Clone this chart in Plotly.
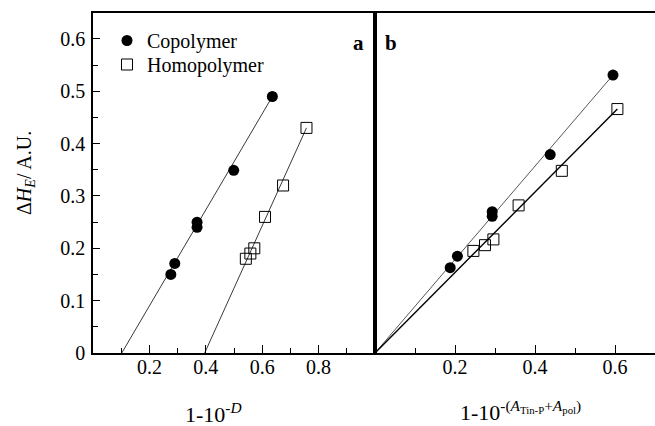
import plotly.graph_objects as go

# Panel a data
co_a_x = [0.276, 0.290, 0.369, 0.369, 0.499, 0.636]
co_a_y = [0.150, 0.171, 0.250, 0.240, 0.349, 0.490]
homo_a_x = [0.542, 0.558, 0.572, 0.610, 0.674, 0.757]
homo_a_y = [0.180, 0.190, 0.200, 0.260, 0.320, 0.430]
co_a_fit_x = [0.102, 0.636]
co_a_fit_y = [0.0, 0.490]
homo_a_fit_x = [0.396, 0.757]
homo_a_fit_y = [0.0, 0.430]

# Panel b data
co_b_x = [0.188, 0.206, 0.293, 0.293, 0.438, 0.595]
co_b_y = [0.163, 0.185, 0.270, 0.261, 0.379, 0.531]
homo_b_x = [0.246, 0.275, 0.296, 0.359, 0.467, 0.606]
homo_b_y = [0.195, 0.206, 0.217, 0.282, 0.348, 0.466]
co_b_fit_x = [0.0, 0.595]
co_b_fit_y = [0.0, 0.531]
homo_b_fit_x = [0.0, 0.606]
homo_b_fit_y = [0.0, 0.466]

y_ticks = [0, 0.1, 0.2, 0.3, 0.4, 0.5, 0.6]
y_ticktext = ["0", "0.1", "0.2", "0.3", "0.4", "0.5", "0.6"]
xa_ticks = [0.2, 0.4, 0.6, 0.8]
xa_ticktext = ["0.2", "0.4", "0.6", "0.8"]
xb_ticks = [0.2, 0.4, 0.6]
xb_ticktext = ["0.2", "0.4", "0.6"]

FONT = "Liberation Serif, Times New Roman, Times, serif"
W, H = 655, 426
L, R, T, B = 93, 0, 13, 73
PW, PH = W - L - R, H - T - B
split = (375 - L) / PW


def px_x(x):
    return (x - L) / PW


def px_y(y):
    # y in pixels from the top of the page
    return (H - B - y) / PH


fig = go.Figure()

fine = dict(color="#222", width=0.9)
fig.add_trace(go.Scatter(x=co_a_fit_x, y=co_a_fit_y, mode="lines", line=fine,
                         showlegend=False, xaxis="x", yaxis="y"))
fig.add_trace(go.Scatter(x=homo_a_fit_x, y=homo_a_fit_y, mode="lines", line=fine,
                         showlegend=False, xaxis="x", yaxis="y"))
fig.add_trace(go.Scatter(x=co_b_fit_x, y=co_b_fit_y, mode="lines",
                         line=dict(color="#444", width=0.9),
                         showlegend=False, xaxis="x2", yaxis="y2"))
fig.add_trace(go.Scatter(x=homo_b_fit_x, y=homo_b_fit_y, mode="lines",
                         line=dict(color="black", width=1.4),
                         showlegend=False, xaxis="x2", yaxis="y2"))

circ = dict(symbol="circle", size=11, color="black", line=dict(width=0))
sq = dict(symbol="square-open", size=11, color="black", line=dict(width=1))

fig.add_trace(go.Scatter(x=co_a_x, y=co_a_y, mode="markers", marker=circ,
                         name="Copolymer", xaxis="x", yaxis="y", legend="legend"))
fig.add_trace(go.Scatter(x=homo_a_x, y=homo_a_y, mode="markers", marker=sq,
                         name="Homopolymer", xaxis="x", yaxis="y", legend="legend2"))
fig.add_trace(go.Scatter(x=co_b_x, y=co_b_y, mode="markers", marker=circ,
                         showlegend=False, xaxis="x2", yaxis="y2"))
fig.add_trace(go.Scatter(x=homo_b_x, y=homo_b_y, mode="markers", marker=sq,
                         showlegend=False, xaxis="x2", yaxis="y2"))

tickfont = dict(family=FONT, size=20, color="black")
minor_common = dict(ticks="inside", ticklen=5, tickwidth=1.2, tickcolor="black")
common_x = dict(showline=True, linecolor="black", linewidth=1.6, ticks="inside",
                ticklen=8, tickwidth=1.2, tickcolor="black", showgrid=False,
                zeroline=False, ticklabelstandoff=-5)
legend_common = dict(xanchor="left", yanchor="top",
                     font=dict(family=FONT, size=20, color="black"),
                     bgcolor="rgba(0,0,0,0)", borderwidth=0)

fig.update_layout(
    width=W, height=H,
    margin=dict(l=L, r=R, t=T, b=B),
    paper_bgcolor="white", plot_bgcolor="white",
    font=dict(family=FONT, color="black", size=20),
    xaxis=dict(domain=[0, split], range=[0, 1], tickmode="array", tickvals=xa_ticks,
               ticktext=xa_ticktext, mirror=True, tickfont=tickfont,
               minor=dict(tickmode="array", tickvals=[0.1, 0.3, 0.5, 0.7, 0.9], **minor_common),
               anchor="y", **common_x),
    xaxis2=dict(domain=[split, 1], range=[0, 0.7], tickmode="array", tickvals=xb_ticks,
                ticktext=xb_ticktext, mirror=True, tickfont=tickfont,
                minor=dict(tickmode="array", tickvals=[0.1, 0.3, 0.5], **minor_common),
                anchor="y2", **common_x),
    yaxis=dict(domain=[0, 1], range=[0, 0.6495], tickmode="array", tickvals=y_ticks,
               ticktext=y_ticktext, showline=True, linecolor="black", linewidth=1.6,
               mirror=True, ticks="inside", ticklen=7, tickwidth=1.2, tickcolor="black",
               minor=dict(tickmode="array", tickvals=[0.05, 0.15, 0.25, 0.35, 0.45, 0.55],
                          **minor_common),
               showgrid=False, zeroline=False, tickfont=tickfont, anchor="x",
               ticklabelstandoff=2),
    yaxis2=dict(domain=[0, 1], range=[0, 0.6495], showticklabels=False, ticks="",
                showline=True, linecolor="black", linewidth=1.6, showgrid=False,
                zeroline=False, anchor="x2"),
    legend=dict(x=px_x(107), y=px_y(21), **legend_common),
    legend2=dict(x=px_x(107), y=px_y(45), **legend_common),
    showlegend=True,
)

ann_font = dict(family=FONT, size=21, color="black")
fig.add_annotation(text="<b>a</b>", x=px_x(358), y=px_y(43), xref="paper", yref="paper",
                   xanchor="center", yanchor="middle", showarrow=False, font=ann_font)
fig.add_annotation(text="<b>b</b>", x=px_x(391), y=px_y(43), xref="paper", yref="paper",
                   xanchor="center", yanchor="middle", showarrow=False, font=ann_font)

title_font = dict(family=FONT, size=22, color="black")
fig.add_annotation(text="1-10<sup>-<i>D</i></sup>", x=px_x(213), y=px_y(429),
                   xref="paper", yref="paper", xanchor="center", yanchor="bottom",
                   showarrow=False, font=title_font)
fig.add_annotation(text="1-10<sup>-(<i>A</i><sub>Tin-P</sub>+<i>A</i><sub>pol</sub>)</sup>",
                   x=px_x(520), y=px_y(427), xref="paper", yref="paper",
                   xanchor="center", yanchor="bottom", showarrow=False, font=title_font)
fig.add_annotation(text="Δ<i>H<sub>E</sub></i>/ A.U.", x=px_x(25), y=px_y(173),
                   xref="paper", yref="paper", xanchor="center", yanchor="middle",
                   showarrow=False, textangle=-90, font=dict(family=FONT, size=20, color="black"))

fig.write_html("out.html")
